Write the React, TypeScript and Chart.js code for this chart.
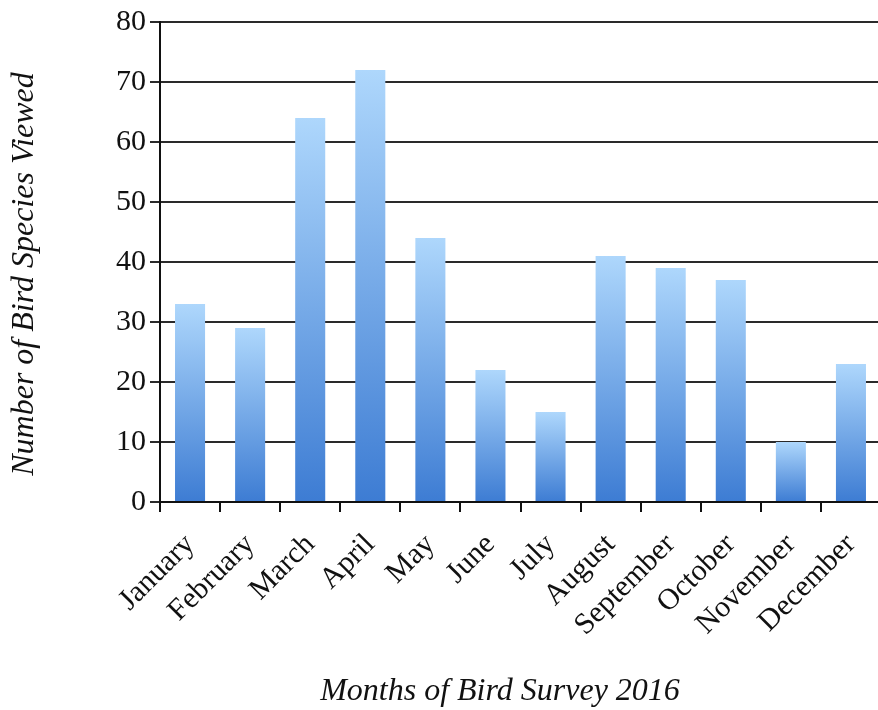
import React, { useEffect, useRef } from "react";
import { Chart, registerables } from "chart.js";

Chart.register(...registerables);

const months = [
  "January", "February", "March", "April", "May", "June",
  "July", "August", "September", "October", "November", "December",
];
const speciesCounts = [33, 29, 64, 72, 44, 22, 15, 41, 39, 37, 10, 23];
const yMin = 0;
const yMax = 80;
const yStep = 10;
const xTitle = "Months of Bird Survey 2016";
const yTitle = "Number of Bird Species Viewed";

const FONT = '"Liberation Serif", "Times New Roman", serif';

export default function App() {
  const ref = useRef<HTMLCanvasElement>(null);

  useEffect(() => {
    const canvas = ref.current;
    if (!canvas) return;

    const titlesPlugin = {
      id: "axisTitles",
      afterDraw(chart: any) {
        const { ctx, chartArea } = chart;
        ctx.save();
        ctx.fillStyle = "#111";
        ctx.font = `italic 32px ${FONT}`;
        ctx.textAlign = "center";
        ctx.textBaseline = "middle";
        ctx.fillText(xTitle, chartArea.left + 340, 692);
        ctx.translate(25, chartArea.top + 252);
        ctx.rotate(-Math.PI / 2);
        ctx.fillText(yTitle, 0, 0);
        ctx.restore();
      },
    };

    const chart = new Chart(canvas, {
      type: "bar",
      data: {
        labels: months,
        datasets: [
          {
            data: speciesCounts,
            barPercentage: 0.5,
            categoryPercentage: 1,
            backgroundColor: (c: any) => {
              const ch = c.chart;
              const ys = ch.scales && ch.scales.y;
              if (!ys || c.raw == null) return "#6ea8ea";
              const top = ys.getPixelForValue(c.raw);
              const bot = ys.getPixelForValue(0);
              if (!isFinite(top) || !isFinite(bot) || top === bot) return "#6ea8ea";
              const g = ch.ctx.createLinearGradient(0, top, 0, bot);
              g.addColorStop(0, "#aed7fc");
              g.addColorStop(1, "#3d7cd3");
              return g;
            },
            borderWidth: 0,
          },
        ],
      },
      options: {
        responsive: false,
        animation: false,
        layout: { padding: { top: 22, left: 0, right: 0, bottom: 0 } },
        plugins: {
          legend: { display: false },
          tooltip: { enabled: false },
        },
        scales: {
          x: {
            offset: true,
            grid: {
              offset: true,
              drawOnChartArea: false,
              tickLength: 10,
              color: "#111",
              lineWidth: 2,
            },
            border: { color: "#111", width: 2 },
            ticks: {
              minRotation: 45,
              maxRotation: 45,
              autoSkip: false,
              padding: 15,
              color: "#111",
              font: { family: FONT, size: 30 },
            },
            afterFit: (scale: any) => {
              scale.height = 208;
              scale.paddingLeft = 0;
              scale.paddingRight = 0;
            },
          },
          y: {
            min: yMin,
            max: yMax,
            ticks: {
              stepSize: yStep,
              padding: 4,
              color: "#111",
              font: { family: FONT, size: 30 },
            },
            grid: {
              color: "#2a2a2a",
              lineWidth: 2,
              tickLength: 10,
            },
            border: { color: "#111", width: 2 },
            afterFit: (scale: any) => {
              scale.width = 160;
            },
          },
        },
      },
      plugins: [titlesPlugin],
    });

    return () => chart.destroy();
  }, []);

  return (
    <div
      style={{
        position: "fixed",
        left: 0,
        top: 0,
        width: 878,
        height: 710,
        overflow: "hidden",
        background: "#fff",
      }}
    >
      <canvas ref={ref} width={881} height={710} style={{ display: "block" }} />
    </div>
  );
}
